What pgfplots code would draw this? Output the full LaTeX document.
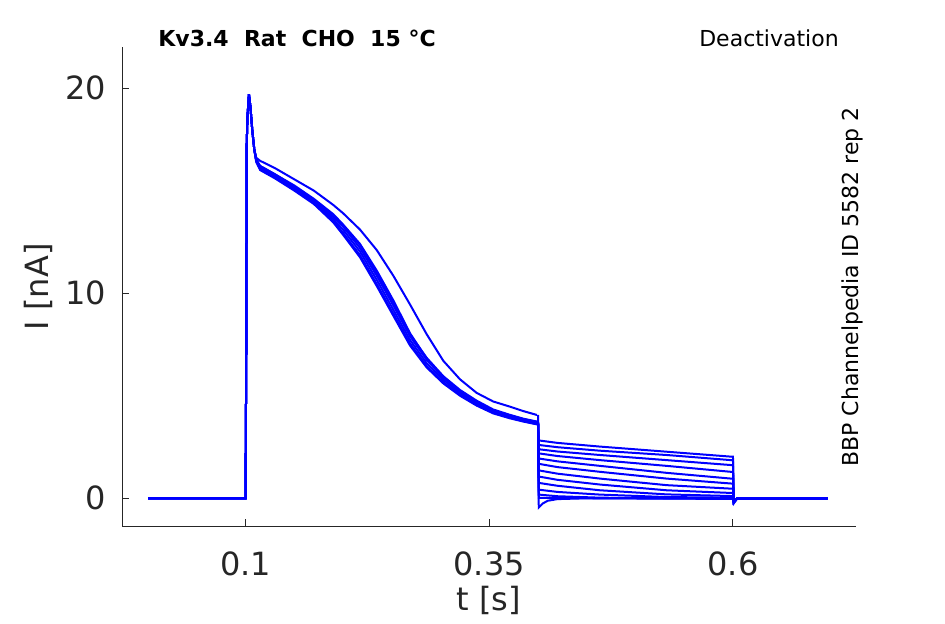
\documentclass[border=0pt]{standalone}
\usepackage{fontspec}
\setmainfont{DejaVu Sans}
\usepackage{pgfplots}
\pgfplotsset{compat=1.18}
\definecolor{axgray}{RGB}{38,38,38}
\begin{document}
\begin{tikzpicture}
\useasboundingbox (0,0) rectangle (472.5pt,312pt);
\begin{axis}[
  at={(61pt,48.65pt)}, anchor=south west,
  scale only axis, width=367pt, height=239.85pt,
  xmin=-0.0267, xmax=0.7262, ymin=-1.385, ymax=22.0,
  axis x line*=bottom, axis y line*=left,
  axis line style={axgray, line width=0.5pt},
  tick style={axgray, line width=0.5pt},
  tick align=inside, major tick length=3.6pt,
  xtick={0.1,0.35,0.6}, xticklabels={0.1,0.35,0.6},
  ytick={0,10,20},
  /pgf/number format/assume math mode=true,
  ticklabel style={font=\fontsize{16}{19}\selectfont, text=axgray},
  xticklabel style={inner sep=0pt, anchor=north, yshift=-12.2pt},
  yticklabel style={inner sep=0pt, anchor=east, xshift=-7.8pt},
  xlabel={t [s]}, ylabel={I [nA]},
  label style={font=\fontsize{16}{19}\selectfont, text=axgray},
  xlabel style={at={(axis description cs:0.5,-0.153)}, anchor=center},
  ylabel style={at={(axis description cs:-0.1144,0.5)}, anchor=center, rotate=0},
  clip=false,
  tr/.style={blue, line width=1pt, solid, mark=none},
]
% ---- activation (0 - 0.4 s)
\addplot[tr] coordinates {(0,0) (0.05,0) (0.1,0) (0.1008,7.5) (0.1012,17.2) (0.102,18.6) (0.1035,19.7) (0.105,19.1) (0.107,17.9) (0.109,17.0) (0.111,16.6)
 (0.115,16.45) (0.13,16.1) (0.15,15.55) (0.17,15.0) (0.19,14.3) (0.2,13.9) (0.2174,13.1) (0.2346,12.1) (0.2516,10.85) (0.2687,9.45) (0.2858,8.0) (0.3029,6.7) (0.32,5.8) (0.337,5.14) (0.354,4.72) (0.371,4.47) (0.385,4.25) (0.399,4.06)};
\addplot[tr] coordinates {(0,0) (0.05,0) (0.1,0) (0.1008,7.5) (0.1012,17.2) (0.102,18.6) (0.1035,19.7) (0.105,19.1) (0.107,17.9) (0.109,17.0) (0.111,16.5)
 (0.115,16.2) (0.13,15.8) (0.15,15.25) (0.17,14.6) (0.19,13.85) (0.2,13.35) (0.2174,12.4) (0.2346,11.1) (0.2516,9.65) (0.2687,8.05) (0.2858,6.8) (0.3029,5.9) (0.32,5.22) (0.337,4.72) (0.354,4.3) (0.371,4.05) (0.385,3.86) (0.399,3.72)};
\addplot[tr] coordinates {(0,0) (0.05,0) (0.1,0) (0.1008,7.5) (0.1012,17.2) (0.102,18.6) (0.1035,19.7) (0.105,19.1) (0.107,17.9) (0.109,17.0) (0.111,16.5)
 (0.115,16.1) (0.13,15.7) (0.15,15.1) (0.17,14.45) (0.19,13.6) (0.2,13.1) (0.2174,12.03) (0.2346,10.65) (0.2516,9.19) (0.2687,7.72) (0.2858,6.59) (0.3029,5.77) (0.32,5.12) (0.337,4.63) (0.354,4.22) (0.371,3.98) (0.385,3.8) (0.399,3.66)};
\addplot[tr] coordinates {(0,0) (0.05,0) (0.1,0) (0.1008,7.5) (0.1012,17.2) (0.102,18.6) (0.1035,19.7) (0.105,19.1) (0.107,17.9) (0.109,17.0) (0.111,16.5)
 (0.115,16.15) (0.13,15.75) (0.15,15.15) (0.17,14.5) (0.19,13.7) (0.2,13.25) (0.2174,12.2) (0.2346,10.85) (0.2516,9.4) (0.2687,7.9) (0.2858,6.75) (0.3029,5.88) (0.32,5.2) (0.337,4.7) (0.354,4.28) (0.371,4.03) (0.385,3.85) (0.399,3.7)};
\addplot[tr] coordinates {(0,0) (0.05,0) (0.1,0) (0.1008,7.5) (0.1012,17.2) (0.102,18.6) (0.1035,19.7) (0.105,19.1) (0.107,17.9) (0.109,17.0) (0.111,16.4)
 (0.115,16.05) (0.13,15.65) (0.15,15.05) (0.17,14.4) (0.19,13.5) (0.2,12.95) (0.2174,11.85) (0.2346,10.45) (0.2516,9.0) (0.2687,7.55) (0.2858,6.45) (0.3029,5.66) (0.32,5.04) (0.337,4.56) (0.354,4.17) (0.371,3.93) (0.385,3.76) (0.399,3.62)};
\addplot[tr] coordinates {(0,0) (0.05,0) (0.1,0) (0.1008,7.5) (0.1012,17.2) (0.102,18.6) (0.1035,19.7) (0.105,19.1) (0.107,17.9) (0.109,17.0) (0.111,16.5)
 (0.115,16.2) (0.13,15.8) (0.15,15.2) (0.17,14.55) (0.19,13.75) (0.2,13.3) (0.2174,12.35) (0.2346,11.0) (0.2516,9.55) (0.2687,8.0) (0.2858,6.85) (0.3029,5.95) (0.32,5.28) (0.337,4.76) (0.354,4.33) (0.371,4.07) (0.385,3.88) (0.399,3.74)};
\addplot[tr] coordinates {(0,0) (0.05,0) (0.1,0) (0.1008,7.5) (0.1012,17.2) (0.102,18.6) (0.1035,19.7) (0.105,19.1) (0.107,17.9) (0.109,17.0) (0.111,16.4)
 (0.115,16.0) (0.13,15.6) (0.15,15.0) (0.17,14.35) (0.19,13.45) (0.2,12.85) (0.2174,11.75) (0.2346,10.35) (0.2516,8.9) (0.2687,7.45) (0.2858,6.38) (0.3029,5.6) (0.32,5.0) (0.337,4.52) (0.354,4.14) (0.371,3.9) (0.385,3.74) (0.399,3.6)};
% ---- deactivation tails (0.4 - 0.6 s) and return to holding
\addplot[tr] coordinates {(0.4,4.06) (0.4008,2.82) (0.42,2.70) (0.4636,2.52) (0.532,2.27) (0.598,2.03) (0.6,2.03) (0.6008,-0.2) (0.604,-0.02) (0.697,0)};
\addplot[tr] coordinates {(0.4,3.72) (0.4008,2.60) (0.42,2.49) (0.4636,2.32) (0.532,2.11) (0.598,1.86) (0.6,1.86) (0.6008,-0.2) (0.604,-0.02) (0.697,0)};
\addplot[tr] coordinates {(0.4,3.66) (0.4008,2.39) (0.42,2.28) (0.4636,2.11) (0.532,1.86) (0.598,1.62) (0.6,1.62) (0.6008,-0.2) (0.604,-0.02) (0.697,0)};
\addplot[tr] coordinates {(0.4,3.70) (0.4008,2.19) (0.42,2.06) (0.4636,1.86) (0.532,1.58) (0.598,1.29) (0.6,1.29) (0.6008,-0.2) (0.604,-0.02) (0.697,0)};
\addplot[tr] coordinates {(0.4,3.62) (0.4008,1.94) (0.42,1.80) (0.4636,1.58) (0.532,1.24) (0.598,0.96) (0.6,0.96) (0.6008,-0.2) (0.604,-0.02) (0.697,0)};
\addplot[tr] coordinates {(0.4,3.74) (0.4008,1.68) (0.42,1.52) (0.4636,1.29) (0.532,0.96) (0.598,0.72) (0.6,0.72) (0.6008,-0.2) (0.604,-0.02) (0.697,0)};
\addplot[tr] coordinates {(0.4,3.60) (0.4008,1.36) (0.42,1.20) (0.4636,0.96) (0.532,0.64) (0.598,0.47) (0.6,0.47) (0.6008,-0.2) (0.604,-0.02) (0.697,0)};
\addplot[tr] coordinates {(0.4,3.66) (0.4008,1.06) (0.42,0.90) (0.4636,0.67) (0.532,0.39) (0.598,0.26) (0.6,0.26) (0.6008,-0.2) (0.604,-0.02) (0.697,0)};
\addplot[tr] coordinates {(0.4,3.66) (0.4008,0.75) (0.42,0.61) (0.4636,0.39) (0.532,0.19) (0.598,0.11) (0.6,0.11) (0.6008,-0.2) (0.604,-0.02) (0.697,0)};
\addplot[tr] coordinates {(0.4,3.66) (0.4008,0.42) (0.42,0.31) (0.4636,0.18) (0.532,0.06) (0.598,0.03) (0.6,0.03) (0.6008,-0.2) (0.604,-0.02) (0.697,0)};
\addplot[tr] coordinates {(0.4,3.66) (0.4008,0.18) (0.42,0.10) (0.4636,0.03) (0.532,0.0) (0.598,0.0) (0.6,0.0) (0.6008,-0.2) (0.604,-0.02) (0.697,0)};
\addplot[tr] coordinates {(0.4,3.66) (0.4008,0.02) (0.42,0.01) (0.4636,0.0) (0.532,0.0) (0.598,-0.02) (0.6,-0.02) (0.6008,-0.2) (0.604,-0.02) (0.697,0)};
\addplot[tr] coordinates {(0.4,3.66) (0.4008,-0.45) (0.405,-0.25) (0.41,-0.12) (0.42,-0.04) (0.45,0) (0.598,-0.03) (0.6,-0.03) (0.6008,-0.25) (0.604,-0.02) (0.697,0)};
% ---- texts
\node[anchor=base west, inner sep=0pt, font=\fontsize{11}{13}\selectfont\bfseries] at (rel axis cs:0.049,1.0) {Kv3.4\ \ Rat\ \ CHO\ \ 15\ °C};
\node[anchor=base east, inner sep=0pt, font=\fontsize{11}{13}\selectfont] at (rel axis cs:0.977,1.0) {Deactivation};
\node[anchor=base east, inner sep=0pt, rotate=90, font=\fontsize{11}{13}\selectfont] at (rel axis cs:1.003,0.875) {BBP Channelpedia ID 5582 rep 2};
\end{axis}
\end{tikzpicture}
\end{document}
